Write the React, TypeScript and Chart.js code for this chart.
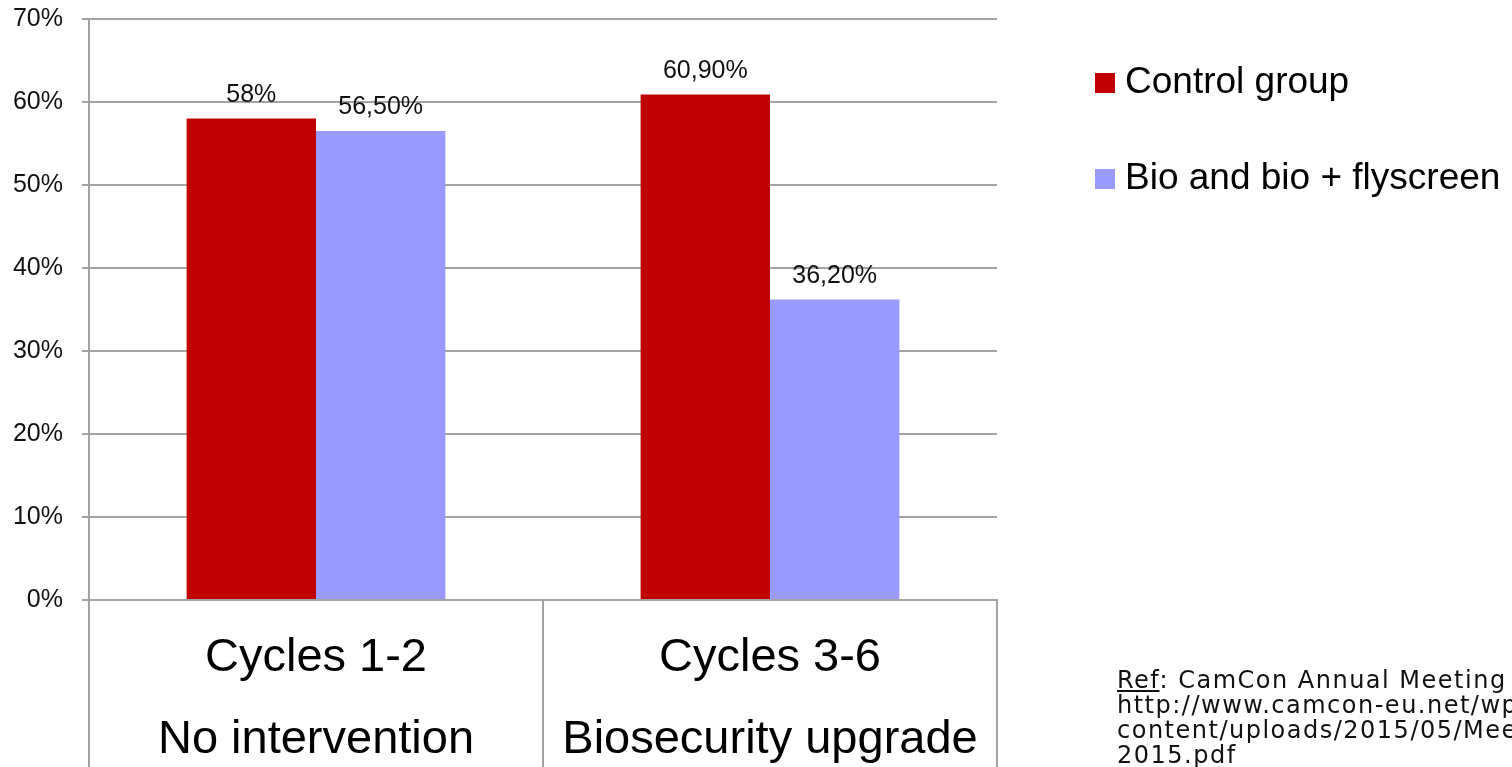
import React, { useEffect, useRef } from "react";
import { Chart, registerables } from "chart.js";

Chart.register(...registerables);

const categories: string[][] = [
  ["Cycles 1-2", "No intervention"],
  ["Cycles 3-6", "Biosecurity upgrade"],
];
const seriesNames = ["Control group", "Bio and bio + flyscreen"];
const controlValues = [58, 60.9];
const bioValues = [56.5, 36.2];
const controlLabels = ["58%", "60,90%"];
const bioLabels = ["56,50%", "36,20%"];
const yTicks = [0, 10, 20, 30, 40, 50, 60, 70];
const colors = ["#c00000", "#9999ff"];
const refLines = [
  "Ref: CamCon Annual Meeting 2015",
  "http://www.camcon-eu.net/wp-",
  "content/uploads/2015/05/Meeting-",
  "2015.pdf",
];

const W = 1512;
const H = 820;
const FONT = "'Liberation Sans', Arial, sans-serif";
const GRID = "#a3a3a3";

export default function App() {
  const ref = useRef<HTMLCanvasElement | null>(null);

  useEffect(() => {
    const canvas = ref.current;
    if (!canvas) return;
    const allLabels = [controlLabels, bioLabels];

    const valueLabels = {
      id: "valueLabels",
      afterDatasetsDraw(chart: any) {
        const ctx = chart.ctx;
        ctx.save();
        ctx.font = `25px ${FONT}`;
        ctx.fillStyle = "#111";
        ctx.textAlign = "center";
        ctx.textBaseline = "alphabetic";
        chart.data.datasets.forEach((ds: any, di: number) => {
          const meta = chart.getDatasetMeta(di);
          meta.data.forEach((el: any, i: number) => {
            ctx.fillText(allLabels[di][i], el.x, el.y - 17);
          });
        });
        ctx.restore();
      },
    };

    const sideLegend = {
      id: "sideLegend",
      afterDraw(chart: any) {
        const ctx = chart.ctx;
        const x0 = chart.chartArea.right + 98;
        ctx.save();
        ctx.font = `37px ${FONT}`;
        ctx.textBaseline = "middle";
        ctx.textAlign = "left";
        chart.data.datasets.forEach((ds: any, i: number) => {
          const cy = 83 + i * 96;
          ctx.fillStyle = ds.backgroundColor;
          ctx.fillRect(x0, cy - 10, 20, 20);
          ctx.fillStyle = "#000";
          ctx.fillText(ds.label, x0 + 30, cy);
        });
        ctx.restore();
      },
    };

    const chart = new Chart(canvas, {
      type: "bar",
      data: {
        labels: categories,
        datasets: [
          { label: seriesNames[0], data: controlValues, backgroundColor: colors[0], borderWidth: 0 },
          { label: seriesNames[1], data: bioValues, backgroundColor: colors[1], borderWidth: 0 },
        ],
      },
      options: {
        animation: false,
        responsive: false,
        devicePixelRatio: 1,
        layout: { padding: { top: 19, right: W - 997, bottom: 0, left: 0 } },
        datasets: { bar: { barPercentage: 1, categoryPercentage: 0.57 } },
        plugins: {
          legend: { display: false },
          tooltip: { enabled: false },
        },
        scales: {
          x: {
            afterFit: (s: any) => {
              s.height = H - 600;
            },
            grid: {
              offset: true,
              drawOnChartArea: false,
              drawTicks: true,
              tickLength: H - 600,
              color: GRID,
              lineWidth: 2,
            },
            border: { display: true, color: GRID, width: 2 },
            ticks: {
              autoSkip: false,
              maxRotation: 0,
              minRotation: 0,
              padding: -(H - 600) + 17,
              color: "#000",
              font: { family: FONT, size: 47, lineHeight: 82 / 47 },
            },
          },
          y: {
            min: 0,
            max: 70,
            afterFit: (s: any) => {
              s.width = 89;
              s.paddingTop = 0;
              s.paddingBottom = 0;
            },
            afterBuildTicks: (s: any) => {
              s.ticks = yTicks.map((v) => ({ value: v }));
            },
            grid: { color: GRID, lineWidth: 2, tickLength: 7, drawTicks: true },
            border: { display: true, color: GRID, width: 2 },
            ticks: {
              padding: 19,
              color: "#111",
              font: { family: FONT, size: 25 },
              callback: (v: any) => `${v}%`,
            },
          },
        },
      },
      plugins: [valueLabels, sideLegend],
    });
    return () => chart.destroy();
  }, []);

  return (
    <div
      style={{
        position: "fixed",
        left: 0,
        top: 0,
        width: W,
        height: 767,
        overflow: "hidden",
        background: "#fff",
      }}
    >
      <canvas ref={ref} width={W} height={H} style={{ display: "block", width: W, height: H }} />
      <div
        style={{
          position: "absolute",
          left: 1117,
          top: 668,
          fontFamily: "'DejaVu Sans', Verdana, sans-serif",
          fontSize: 24,
          lineHeight: "25px",
          letterSpacing: "1.5px",
          color: "#111",
          whiteSpace: "pre",
        }}
      >
        {refLines.map((line, i) => (
          <div key={i}>
            {i === 0 ? (
              <>
                <span style={{ textDecoration: "underline" }}>{line.slice(0, 3)}</span>
                {line.slice(3)}
              </>
            ) : (
              line
            )}
          </div>
        ))}
      </div>
    </div>
  );
}
